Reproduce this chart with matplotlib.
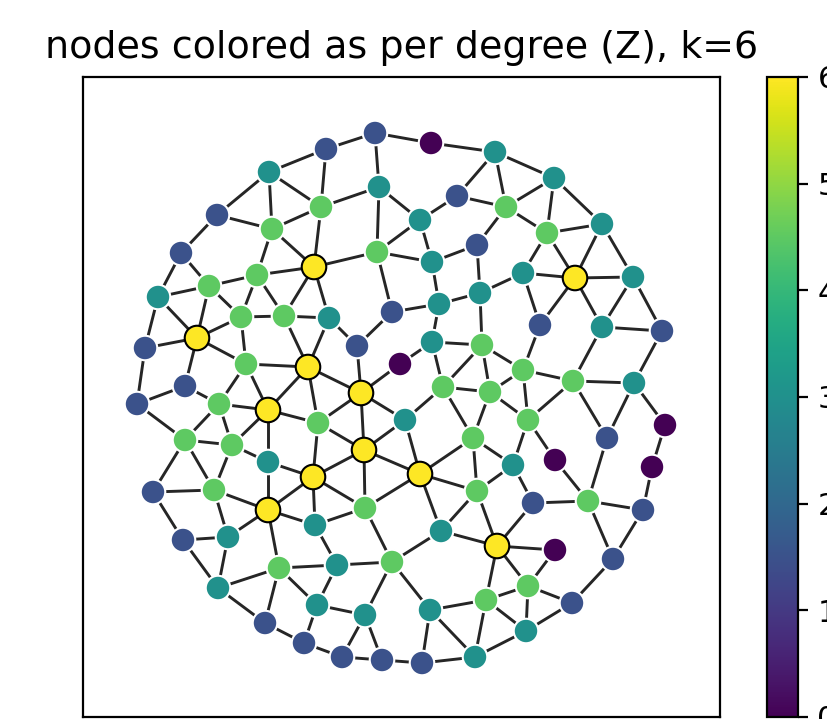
import numpy as np
import matplotlib
matplotlib.use("Agg")
import matplotlib.pyplot as plt
from matplotlib.colors import Normalize
from matplotlib.cm import ScalarMappable
from matplotlib.collections import LineCollection

k = 6

# node layout (x, y) in plot coordinates, y grows downward
pos_x = [375, 431, 326, 495, 269, 554, 379, 457, 321, 506,
         217, 420, 602, 272, 547, 477, 377, 181, 432, 314,
         257, 523, 633, 575, 209, 480, 158, 439, 392, 284,
         241, 329, 540, 602, 662, 197, 432, 482, 357, 145,
         246, 308, 400, 523, 573, 634, 185, 443, 490, 361,
         137, 219, 268, 405, 318, 528, 665, 473, 607, 185,
         232, 364, 555, 268, 513, 652, 313, 420, 477, 153,
         214, 588, 533, 365, 268, 643, 315, 441, 228, 183,
         497, 555, 613, 337, 279, 392, 528, 218, 486, 572,
         430, 317, 365, 265, 526, 304, 342, 475, 382, 422]
pos_y = [133, 143, 149, 152, 172, 178, 187, 196, 207, 207,
         215, 220, 224, 229, 233, 245, 252, 253, 262, 267,
         275, 273, 277, 278, 286, 293, 297, 304, 312, 316,
         317, 318, 325, 327, 331, 338, 342, 345, 346, 348,
         364, 367, 364, 370, 381, 383, 386, 387, 392, 393,
         404, 404, 410, 420, 423, 420, 425, 438, 438, 440,
         445, 450, 460, 462, 465, 467, 477, 474, 491, 492,
         490, 501, 503, 508, 510, 510, 525, 531, 537, 540,
         546, 550, 559, 565, 568, 562, 586, 588, 600, 603,
         610, 605, 615, 623, 631, 643, 657, 657, 660, 663]

edges = [
    (0, 2), (0, 1), (0, 6), (2, 4), (2, 8), (4, 8), (4, 10), (4, 13), (6, 8), (6, 16),
    (6, 11), (8, 13), (8, 19), (10, 13), (10, 17), (13, 20), (13, 19), (16, 19), (16, 11), (16, 18),
    (16, 28), (17, 26), (17, 24), (20, 24), (20, 19), (20, 30), (20, 29), (24, 26), (24, 35), (24, 30),
    (26, 35), (26, 39), (30, 29), (30, 35), (30, 40), (29, 31), (29, 41), (19, 31), (19, 29), (31, 41),
    (31, 38), (28, 38), (28, 27), (35, 39), (35, 40), (35, 46), (39, 50), (40, 41), (40, 51), (40, 52),
    (41, 52), (41, 49), (41, 54), (38, 49), (42, 49), (42, 36), (46, 50), (46, 51), (51, 52),
    (1, 3), (3, 5), (3, 7), (3, 9), (5, 9), (5, 14), (5, 12), (7, 11), (7, 9), (9, 14),
    (9, 15), (11, 18), (14, 12), (14, 23), (14, 21), (12, 23), (12, 22), (15, 18), (15, 25), (18, 27),
    (23, 21), (23, 22), (23, 32), (23, 33), (22, 33), (22, 34), (21, 25), (21, 32), (25, 27), (25, 37),
    (27, 36), (33, 34), (33, 44), (34, 45), (36, 37), (36, 47), (37, 43), (37, 47), (37, 48), (32, 43),
    (43, 44), (43, 48), (43, 55), (44, 45), (47, 48),
    (47, 53), (47, 57), (48, 57), (48, 55), (44, 55), (44, 58), (45, 58), (45, 56), (55, 64), (55, 62),
    (53, 67), (57, 67), (57, 68), (57, 64), (56, 65), (58, 71), (62, 71), (64, 68), (64, 72), (65, 75),
    (67, 68), (67, 77), (68, 77), (68, 80), (72, 71), (72, 80), (71, 75), (71, 82), (75, 82), (77, 80),
    (77, 85), (80, 81), (80, 86), (80, 88), (81, 86), (82, 89), (86, 88), (86, 89), (86, 94), (85, 90),
    (90, 88), (90, 97), (90, 99), (88, 94), (88, 97), (89, 94), (94, 97), (97, 99), (99, 98),
    (50, 59), (51, 59), (51, 60), (52, 60), (52, 63), (52, 54), (54, 61), (54, 66), (49, 61), (49, 53),
    (49, 54), (61, 53), (61, 66), (61, 67), (61, 73), (59, 60), (59, 69), (59, 70), (60, 70), (60, 63),
    (63, 66), (63, 74), (66, 74), (66, 76), (66, 73), (67, 73), (69, 70), (69, 79), (70, 74), (70, 78),
    (74, 78), (74, 76), (74, 84), (73, 76), (73, 85), (76, 83), (79, 78), (79, 87), (78, 87), (84, 87),
    (84, 83), (84, 91), (84, 93), (83, 85), (83, 91), (85, 92), (91, 92), (91, 95), (92, 96), (92, 98),
    (87, 93), (93, 95), (95, 96), (96, 98),
]

x = np.array(pos_x, dtype=float)
y = np.array(pos_y, dtype=float)
e = np.array(edges)

# coordination number Z of every node
Z = np.bincount(e.ravel(), minlength=len(x))

fig = plt.figure(figsize=(4.14, 3.595), dpi=200)
ax = fig.add_axes([83 / 828, 2 / 719, 637 / 828, 640 / 719])

segs = [[(x[a], y[a]), (x[b], y[b])] for a, b in edges]
ax.add_collection(LineCollection(segs, colors="k", linewidths=1.05, alpha=0.85, zorder=1))

border = ["k" if z == k else "w" for z in Z]
ax.scatter(x, y, c=Z, cmap="viridis", s=78, edgecolors=border, linewidths=0.75, zorder=2)

ax.set_xlim(83, 720)
ax.set_ylim(717, 77)
ax.tick_params(axis="both", which="both", bottom=False, left=False,
               labelbottom=False, labelleft=False)
ax.set_title("nodes colored as per degree (Z), k=%d" % k, fontsize=13.7, pad=7)

cax = fig.add_axes([767 / 828, 2 / 719, 31 / 828, 640 / 719])
sm = ScalarMappable(norm=Normalize(vmin=0, vmax=k), cmap="viridis")
cb = fig.colorbar(sm, cax=cax, ticks=range(k + 1))
cb.ax.tick_params(labelsize=11)

fig.savefig("out.png", dpi=200)
